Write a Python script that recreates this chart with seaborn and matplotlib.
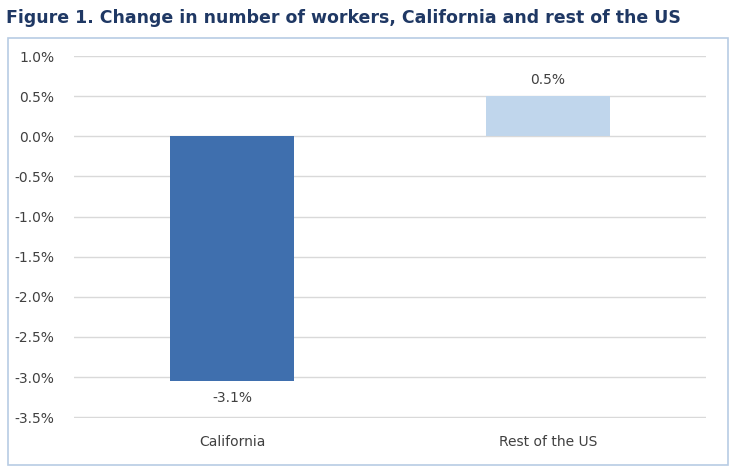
import matplotlib.pyplot as plt
import matplotlib.patches as mpatches
import seaborn as sns
import pandas as pd
from matplotlib.ticker import FuncFormatter

regions = ['California', 'Rest of the US']
changes = [-3.05, 0.5]
labels = ['-3.1%', '0.5%']
colors = ['#3F6FAE', '#C0D6EC']

df = pd.DataFrame({'region': regions, 'change': changes})

fig = plt.figure(figsize=(7.36, 4.74), dpi=100)
fig.patches.append(mpatches.Rectangle((8 / 736, 9 / 474), 720 / 736, 427 / 474,
                                      transform=fig.transFigure, fill=False,
                                      edgecolor='#B8CCE4', linewidth=1.2))
fig.text(6 / 736, 1 - 18 / 474, 'Figure 1. Change in number of workers, California and rest of the US',
         fontsize=12.5, fontweight='bold', color='#1F3864', va='center', ha='left')

ax = fig.add_axes([74 / 736, 56 / 474, 632 / 736, 362 / 474])
sns.barplot(data=df, x='region', y='change', hue='region', palette=colors,
            saturation=1, width=0.39, legend=False, ax=ax)

ax.set_ylim(-3.51, 1.0)
ax.set_yticks([i * 0.5 for i in range(-7, 3)])
ax.yaxis.set_major_formatter(FuncFormatter(lambda v, _: f'{v:.1f}%'))
ax.grid(axis='y', color='#D9D9D9', linewidth=1)
ax.set_axisbelow(True)
for s in ax.spines.values():
    s.set_visible(False)
ax.tick_params(length=0, labelsize=10, colors='#404040')
ax.tick_params(axis='y', pad=14)
ax.tick_params(axis='x', pad=12)
ax.set_xlabel('')
ax.set_ylabel('')

for i, (v, t) in enumerate(zip(changes, labels)):
    off = 0.12 if v >= 0 else -0.12
    ax.text(i, v + off, t, ha='center', va='bottom' if v >= 0 else 'top',
            fontsize=10, color='#404040')

fig.savefig('out.png', dpi=100)
